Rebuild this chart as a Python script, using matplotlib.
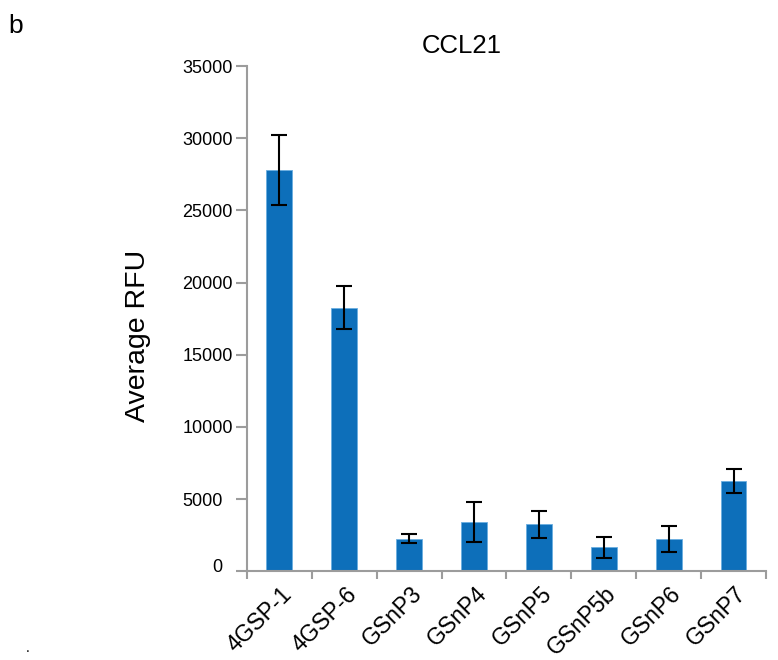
import matplotlib
matplotlib.use("Agg")
import matplotlib.pyplot as plt
import matplotlib.transforms as mtransforms
import numpy as np

plt.rcParams["font.family"] = ["Liberation Sans", "DejaVu Sans"]

samples = ["4GSP-1", "4GSP-6", "GSnP3", "GSnP4", "GSnP5", "GSnP5b", "GSnP6", "GSnP7"]
avg_rfu = [27800, 18250, 2250, 3400, 3250, 1650, 2250, 6250]
rfu_err = [2400, 1500, 320, 1400, 920, 730, 910, 810]
y_ticks = [0, 5000, 10000, 15000, 20000, 25000, 30000, 35000]

bar_color = "#0d6fba"
axis_gray = "#9c9c9c"

fig = plt.figure(figsize=(7.78, 6.6), dpi=100)
ax = fig.add_axes([0.3175, 0.1344, 0.667, 0.7656])

x = np.arange(len(samples))
ax.bar(x, avg_rfu, width=0.4, color=bar_color, edgecolor="#6aaee0", linewidth=0.6)
ax.errorbar(x, avg_rfu, yerr=rfu_err, fmt="none", ecolor="black",
            elinewidth=1.5, capsize=6, capthick=1.5)

ax.set_xlim(-0.5, len(samples) - 0.5)
ax.set_ylim(0, 35000)
ax.set_yticks(y_ticks)
ax.set_yticklabels([str(t) for t in y_ticks], fontsize=13)

# labels at bar centres, tick marks at category boundaries
ax.set_xticks(x)
ax.set_xticklabels(samples, fontsize=16.5, rotation=45, ha="right", va="top",
                   rotation_mode="anchor")
ax.tick_params(axis="x", which="major", length=0, pad=8)
ax.set_xticks(np.arange(len(samples) + 1) - 0.5, minor=True)
ax.tick_params(axis="x", which="minor", length=6, width=1.5, color=axis_gray)
ax.tick_params(axis="y", length=8, width=1.5, color=axis_gray, pad=9.5)

shift_x = mtransforms.ScaledTranslation(1 / 100, 0, fig.dpi_scale_trans)
for lbl in ax.get_xticklabels():
    lbl.set_transform(lbl.get_transform() + shift_x)

# five-digit labels sit a little closer to the axis in the original
for lbl, t in zip(ax.get_yticklabels(), y_ticks):
    dx, dy = 0, 0
    if t >= 10000:
        dx = 10
    if t == 0:
        dy = 6
    off = mtransforms.ScaledTranslation(dx / 100, dy / 100, fig.dpi_scale_trans)
    lbl.set_transform(lbl.get_transform() + off)

for side in ["top", "right"]:
    ax.spines[side].set_visible(False)
for side in ["left", "bottom"]:
    ax.spines[side].set_color(axis_gray)
    ax.spines[side].set_linewidth(1.5)

fig.text(138 / 778, 1 - 336 / 660, "Average RFU", rotation=90, fontsize=20.5,
         ha="center", va="center")
fig.text(462 / 778, 1 - 46 / 660, "CCL21", fontsize=18.5, ha="center", va="center")
fig.text(16 / 778, 1 - 26 / 660, "b", fontsize=19, ha="center", va="center")
fig.text(28 / 778, 1 - 648 / 660, ".", fontsize=10, ha="center", va="center")

plt.savefig("out.png", dpi=100)
